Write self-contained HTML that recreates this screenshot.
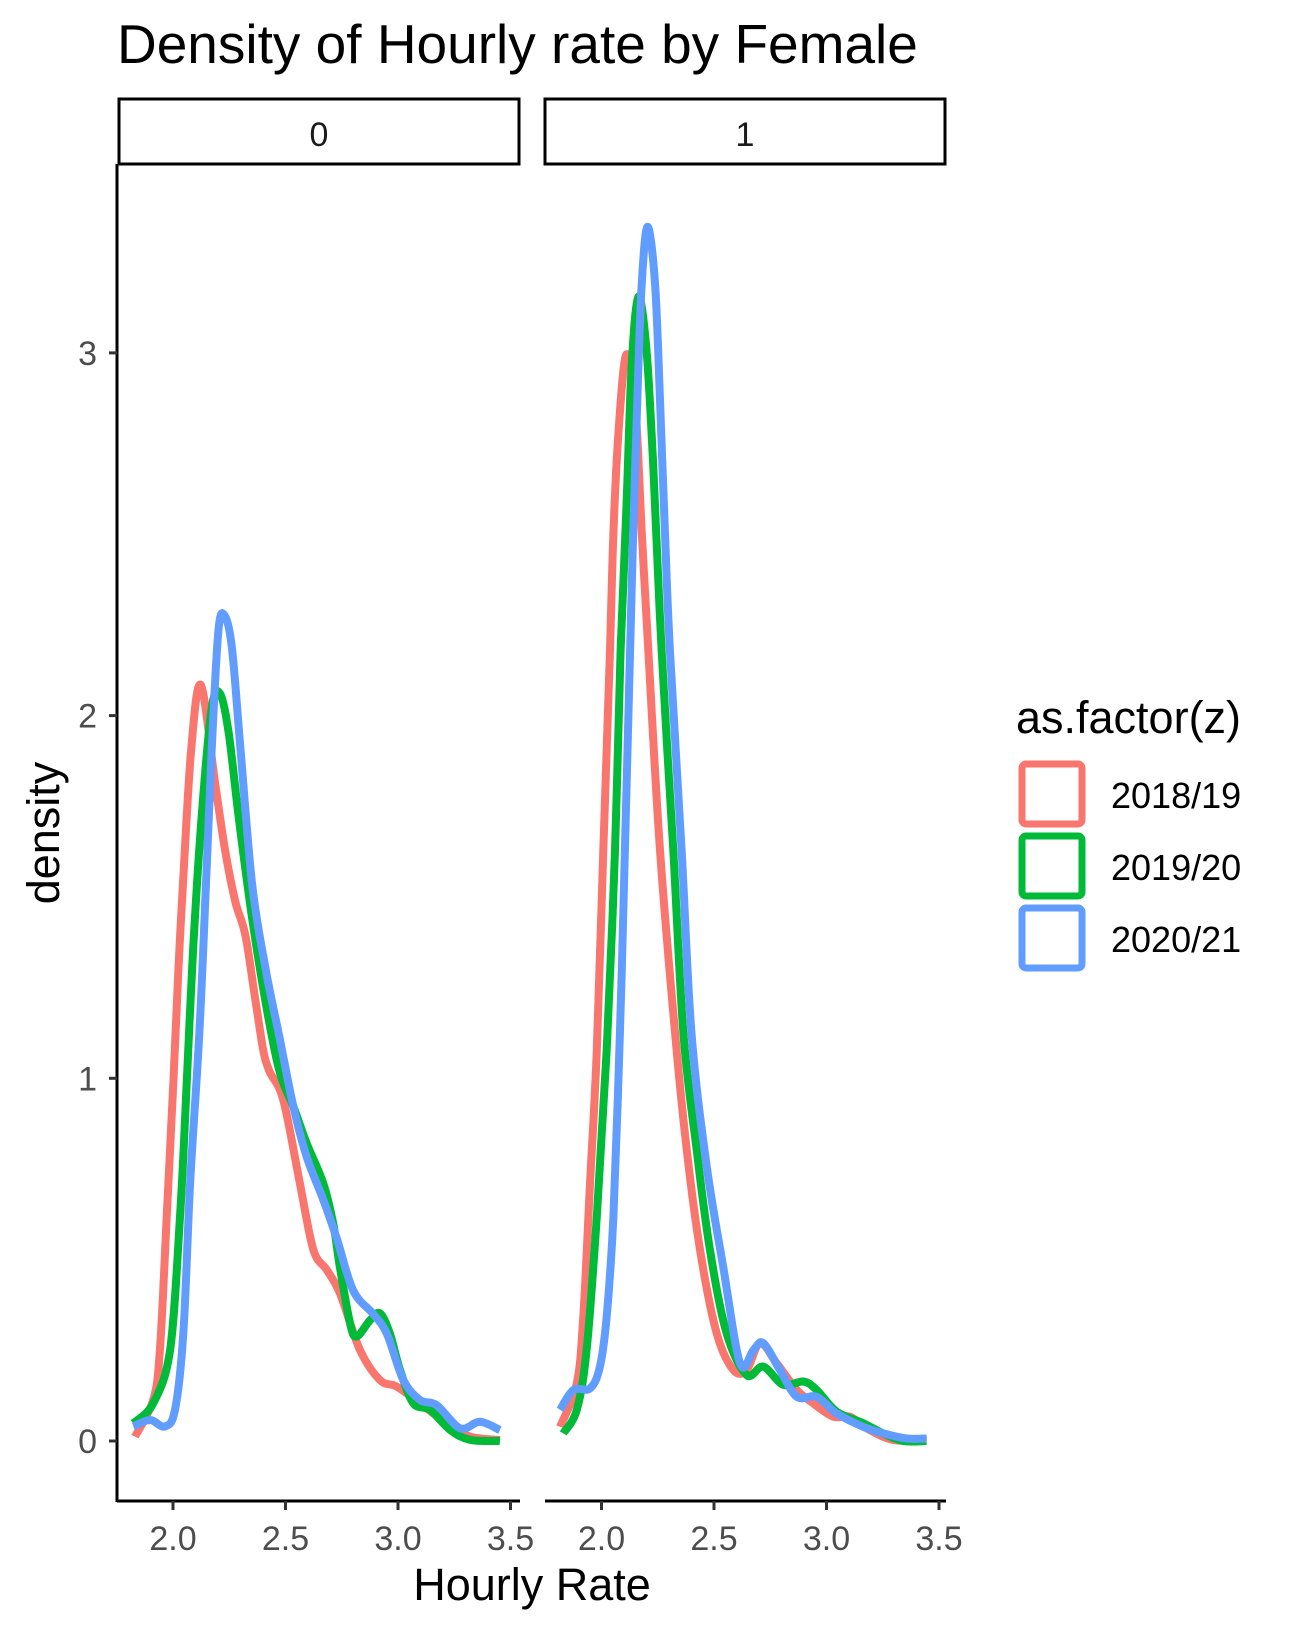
<!DOCTYPE html>
<html><head><meta charset="utf-8">
<style>
html,body{margin:0;padding:0;background:#fff;}
svg{display:block;font-family:"Liberation Sans",Arial,sans-serif;}
</style></head>
<body>
<svg id="chart" width="1291" height="1631" viewBox="0 0 1291 1631" xmlns="http://www.w3.org/2000/svg">
  <text x="117" y="63" font-size="55" fill="#000">Density of Hourly rate by Female</text>
  <g>
    <rect x="119" y="99" width="400" height="65" fill="#fff" stroke="#000" stroke-width="3"/>
    <text x="319" y="146" font-size="34" text-anchor="middle" fill="#1a1a1a">0</text>
  </g>
  <g>
    <rect x="545" y="99" width="400" height="65" fill="#fff" stroke="#000" stroke-width="3"/>
    <text x="745" y="146" font-size="34" text-anchor="middle" fill="#1a1a1a">1</text>
  </g>
  <g id="axes"></g>
  <g id="curves"></g>
  <text transform="translate(59,833) rotate(-90)" font-size="45" text-anchor="middle" fill="#000">density</text>
  <text x="532" y="1600" font-size="45" text-anchor="middle" fill="#000">Hourly Rate</text>
  <g>
    <text x="1016" y="733" font-size="45" fill="#000">as.factor(z)</text>
    <g>
      <rect x="1022" y="764" width="60" height="60" rx="4" fill="#fff" stroke="#F8766D" stroke-width="7"/>
      <text x="1111" y="808" font-size="36" fill="#000">2018/19</text>
    </g>
    <g>
      <rect x="1022" y="836" width="60" height="60" rx="4" fill="#fff" stroke="#00BA38" stroke-width="7"/>
      <text x="1111" y="880" font-size="36" fill="#000">2019/20</text>
    </g>
    <g>
      <rect x="1022" y="908" width="60" height="60" rx="4" fill="#fff" stroke="#619CFF" stroke-width="7"/>
      <text x="1111" y="952" font-size="36" fill="#000">2020/21</text>
    </g>
  </g>
</svg>
<script>
const xTicks = [2.0, 2.5, 3.0, 3.5];
const xTickLabels = ["2.0", "2.5", "3.0", "3.5"];
const yTicks = [0, 1, 2, 3];
const yTickLabels = ["0", "1", "2", "3"];
const seriesNames = ["2018/19", "2019/20", "2020/21"];
const seriesColors = ["#F8766D", "#00BA38", "#619CFF"];

// Panel 0 (Female = 0)
const p0_2018_x = [1.831,1.912,1.942,1.972,2.0015,2.024,2.044,2.081,2.124,2.187,2.232,2.277,2.322,2.368,2.401,2.428,2.49,2.564,2.624,2.683,2.742,2.831,2.92,2.994,3.098,3.216,3.32,3.453];
const p0_2018_d = [0.012,0.113,0.251,0.618,0.986,1.30,1.533,1.907,2.084,1.814,1.627,1.487,1.393,1.208,1.078,1.02,0.94,0.71,0.527,0.472,0.407,0.251,0.168,0.150,0.104,0.049,0.012,0.003];
const p0_2019_x = [1.824,1.912,1.987,2.031,2.061,2.089,2.127,2.172,2.209,2.247,2.292,2.352,2.412,2.473,2.535,2.594,2.668,2.712,2.742,2.787,2.816,2.876,2.92,2.964,3.009,3.068,3.142,3.231,3.32,3.453];
const p0_2019_d = [0.049,0.104,0.251,0.618,0.986,1.35,1.72,2.02,2.061,1.954,1.72,1.44,1.208,1.02,0.922,0.821,0.71,0.6,0.479,0.324,0.288,0.333,0.352,0.296,0.196,0.104,0.086,0.031,0.003,0];
const p0_2020_x = [1.824,1.898,1.964,2.009,2.046,2.076,2.113,2.134,2.172,2.202,2.229,2.262,2.3,2.352,2.412,2.473,2.535,2.594,2.668,2.727,2.801,2.89,2.95,3.024,3.098,3.172,3.276,3.364,3.453];
const p0_2020_d = [0.04,0.058,0.04,0.086,0.297,0.71,1.078,1.347,1.907,2.234,2.276,2.187,1.907,1.533,1.3,1.114,0.922,0.784,0.665,0.56,0.415,0.35,0.296,0.168,0.113,0.099,0.035,0.053,0.03];

// Panel 1 (Female = 1)
const p1_2018_x = [1.816,1.89,1.919,1.949,1.979,2.008,2.038,2.053,2.075,2.109,2.149,2.179,2.208,2.26,2.327,2.379,2.438,2.512,2.586,2.645,2.704,2.779,2.868,2.941,3.03,3.104,3.193,3.297,3.445];
const p1_2018_d = [0.039,0.159,0.343,0.71,1.078,1.629,2.181,2.503,2.778,2.994,2.87,2.503,2.181,1.629,1.124,0.802,0.526,0.297,0.196,0.196,0.27,0.214,0.141,0.104,0.067,0.067,0.03,0.003,0];
const p1_2019_x = [1.83,1.89,1.934,1.979,2.023,2.06,2.085,2.112,2.134,2.164,2.2,2.23,2.267,2.319,2.364,2.423,2.482,2.556,2.645,2.719,2.808,2.897,2.956,3.045,3.164,3.252,3.341,3.445];
const p1_2019_d = [0.021,0.086,0.251,0.618,1.078,1.629,2.181,2.594,2.962,3.155,3.008,2.686,2.181,1.629,1.124,0.802,0.526,0.297,0.182,0.205,0.155,0.164,0.141,0.081,0.049,0.021,0,0];
const p1_2020_x = [1.816,1.875,1.949,1.993,2.023,2.053,2.082,2.104,2.127,2.141,2.159,2.179,2.205,2.238,2.26,2.282,2.304,2.356,2.4,2.468,2.541,2.616,2.675,2.719,2.793,2.868,2.956,3.045,3.164,3.252,3.356,3.445];
const p1_2020_d = [0.086,0.141,0.145,0.205,0.343,0.618,1.124,1.629,2.181,2.503,2.87,3.192,3.348,3.192,2.87,2.503,2.181,1.629,1.124,0.756,0.48,0.214,0.251,0.27,0.196,0.122,0.122,0.076,0.039,0.021,0.007,0.007];

const NS = "http://www.w3.org/2000/svg";
const panelX0 = [173, 601.5];
const pxPerUnit = 225;
const y0 = 1441, pxPerDensity = 362.7;
const panelAxis = [[117,520],[545,946]];
function xScale(p, v){ return panelX0[p] + (v - 2) * pxPerUnit; }
function yScale(d){ return y0 - d * pxPerDensity; }

function mk(tag, attrs, parent){
  const el = document.createElementNS(NS, tag);
  for (const k in attrs) el.setAttribute(k, attrs[k]);
  parent.appendChild(el);
  return el;
}
const axes = document.getElementById('axes');
const yl = mk('line', {x1:117, y1:164, x2:117, y2:1502, stroke:'#000', 'stroke-width':3}, axes);


yTicks.forEach((t, i) => {
  const y = yScale(t);
  const tk = mk('line', {x1:109, y1:y, x2:117, y2:y, stroke:'#333', 'stroke-width':3}, axes);
  
  
  const lb = mk('text', {x:97, y:y+12, 'font-size':34, 'text-anchor':'end', fill:'#4d4d4d'}, axes);
  
  
  lb.textContent = yTickLabels[i];
});
[0,1].forEach(p => {
  const xl = mk('line', {x1:panelAxis[p][0], y1:1501, x2:panelAxis[p][1], y2:1501, stroke:'#000', 'stroke-width':3}, axes);
  
  
  xTicks.forEach((t, i) => {
    const x = xScale(p, t);
    const tk = mk('line', {x1:x, y1:1501, x2:x, y2:1510, stroke:'#333', 'stroke-width':3}, axes);
    
    
    const lb = mk('text', {x:x, y:1550, 'font-size':34, 'text-anchor':'middle', fill:'#4d4d4d'}, axes);
    
    
    lb.textContent = xTickLabels[i];
  });
});

function smoothPath(pts){
  let d = 'M' + pts[0][0] + ',' + pts[0][1];
  for (let i = 0; i < pts.length - 1; i++){
    const p0 = pts[Math.max(i-1,0)], p1 = pts[i], p2 = pts[i+1], p3 = pts[Math.min(i+2, pts.length-1)];
    const c1x = p1[0] + (p2[0]-p0[0])/6, c1y = p1[1] + (p2[1]-p0[1])/6;
    const c2x = p2[0] - (p3[0]-p1[0])/6, c2y = p2[1] - (p3[1]-p1[1])/6;
    d += ' C' + c1x.toFixed(1) + ',' + c1y.toFixed(1) + ' ' + c2x.toFixed(1) + ',' + c2y.toFixed(1) + ' ' + p2[0].toFixed(1) + ',' + p2[1].toFixed(1);
  }
  return d;
}
const curves = document.getElementById('curves');
const panels = [
  [[p0_2018_x,p0_2018_d],[p0_2019_x,p0_2019_d],[p0_2020_x,p0_2020_d]],
  [[p1_2018_x,p1_2018_d],[p1_2019_x,p1_2019_d],[p1_2020_x,p1_2020_d]]
];
panels.forEach((series, p) => {
  series.forEach((s, k) => {
    const pts = s[0].map((v, i) => [xScale(p, v), yScale(s[1][i])]);
    const path = mk('path', {d: smoothPath(pts), fill:'none', stroke: seriesColors[k], 'stroke-width':8, 'stroke-linejoin':'round'}, curves);
    
    
  });
});
</script>
</body></html>
